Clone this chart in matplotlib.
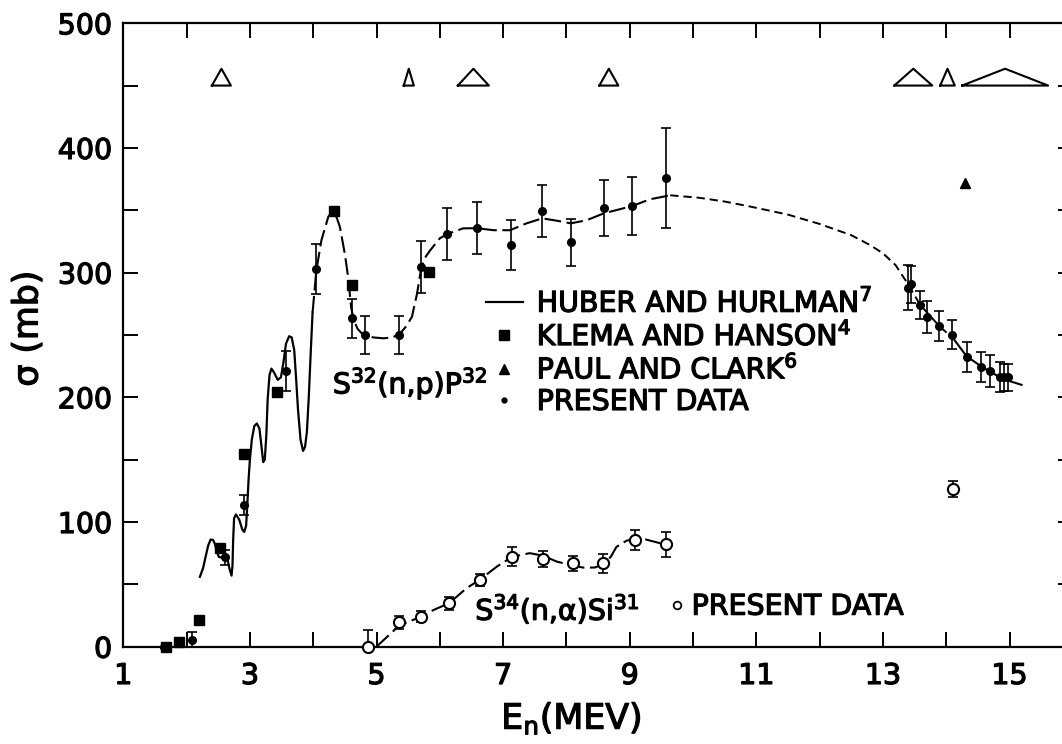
import matplotlib
matplotlib.use("Agg")
import matplotlib.pyplot as plt
import matplotlib.patheffects as pe
from matplotlib.lines import Line2D

# S32(n,p)P32 -- present data (filled dots)
np_E = [1.64, 2.08, 2.61, 2.91, 3.57, 4.05, 4.61, 4.82, 5.36, 5.71, 6.12, 6.59,
        7.12, 7.62, 8.07, 8.59, 9.04, 9.57, 13.39, 13.44, 13.59, 13.70, 13.89,
        14.09, 14.33, 14.55, 14.69, 14.85, 14.92, 14.98]
np_sig = [0, 5.5, 71.7, 113.6, 221, 302.6, 263.3, 250, 250, 304.7, 331, 335.8,
          322, 349.4, 324.3, 352, 353.4, 376, 288, 290.6, 274, 264.6, 257,
          250, 232.6, 224.5, 221, 216, 216, 216]
np_err = [0, 6, 6, 8, 16, 20, 15.5, 15, 15, 21, 21, 21,
          20, 21, 19, 22.5, 23, 40, 18, 15, 11, 13, 12,
          11.6, 12, 12, 13, 12, 11, 11]

# Klema and Hanson (squares)
klema_E = [1.68, 1.88, 2.20, 2.53, 2.91, 3.43, 4.33, 4.62, 5.83]
klema_sig = [0, 4, 21, 79, 154.5, 204.5, 349.6, 290, 300.7]

# Paul and Clark (filled triangle)
paul_E = [14.30]
paul_sig = [371.6]

# S34(n,alpha)Si31 -- present data (open circles)
na_E = [4.87, 5.36, 5.70, 6.15, 6.64, 7.14, 7.63, 8.11, 8.58, 9.08, 9.57, 14.10]
na_sig = [0, 19.5, 24, 34.8, 53.5, 72.2, 70.3, 66.9, 66.9, 85.6, 82.1, 126.5]
na_err = [13, 5, 4.5, 5, 5, 7.5, 6.5, 6, 7.5, 7.7, 10, 6.5]

# Huber and Hurlman (solid wiggly curve)
hh_E = [2.21, 2.26, 2.30, 2.34, 2.38, 2.42, 2.45, 2.48, 2.51, 2.55, 2.59, 2.62,
        2.65, 2.68, 2.71, 2.725, 2.735, 2.75, 2.78, 2.83, 2.88, 2.91, 2.94,
        2.96, 2.98, 3.00, 3.03, 3.07, 3.11, 3.15, 3.18, 3.21, 3.235, 3.26,
        3.28, 3.31, 3.34, 3.38, 3.44, 3.49, 3.53, 3.57, 3.62, 3.66, 3.70,
        3.73, 3.76, 3.80, 3.84, 3.87, 3.90, 3.93, 3.96, 3.99]
hh_sig = [56, 63, 72, 81, 86, 85.5, 82, 76, 72, 71.5, 73, 73,
          69, 62, 57, 65, 85, 103, 106, 102, 94, 92, 97,
          115, 135, 150, 166, 177, 179, 175, 162, 148, 150, 170,
          198, 218, 223, 220, 214, 216, 228, 243, 249, 248, 238,
          215, 190, 166, 157, 160, 172, 200, 235, 268]

# (n,p) long-dashed curve
npc_E = [3.99, 4.05, 4.13, 4.24, 4.33, 4.42, 4.50, 4.55, 4.60, 4.64, 4.70, 4.79,
         4.95, 5.11, 5.25, 5.37, 5.47, 5.56, 5.64, 5.71, 5.78, 5.85, 6.00, 6.12,
         6.37, 6.59, 6.85, 7.11, 7.37, 7.62, 7.85, 8.07, 8.32, 8.59, 9.04, 9.32, 9.64]
npc_sig = [268, 302, 326, 345, 350, 337, 315, 297, 272, 262, 255, 250,
           248, 247.3, 248, 251, 257, 264.6, 283, 304.7, 313, 318, 327.5, 331,
           335.5, 335.6, 334, 334, 339.5, 343.5, 341.6, 339.5, 342, 347.5, 353.4, 358.8, 362]

# (n,p) short-dashed extrapolation
sd_E = [9.64, 10.1, 10.5, 10.9, 11.5, 12.0, 12.5, 12.8, 13.0, 13.2, 13.38, 13.59, 13.90, 14.11]
sd_sig = [362, 360, 357, 353, 346.5, 339, 330, 322, 315.5, 306, 292, 274, 256.6, 247.3]

# (n,p) solid end
end_E = [14.11, 14.32, 14.56, 14.85, 15.0, 15.19]
end_sig = [247.3, 233, 224.5, 216, 213, 210]

# (n,alpha) dashed curve
nac_E = [5.0, 5.36, 5.70, 5.90, 6.15, 6.42, 6.64, 6.90, 7.14, 7.42, 7.63, 7.85,
         8.11, 8.27, 8.45, 8.58, 8.70, 8.79, 8.95, 9.08, 9.25, 9.48]
nac_sig = [0, 17, 24, 29.4, 35, 46.8, 54, 64.2, 72, 75, 73, 68.2,
           65, 63.4, 63.5, 66, 72, 80, 85, 86.5, 86, 83]

# energy resolution triangles along the top
res_E = [2.55, 5.51, 6.53, 8.67, 13.48, 14.02, 14.93]
res_hw = [0.15, 0.08, 0.245, 0.15, 0.30, 0.115, 0.68]
RES_BASE = 450
RES_H = 13.5

plt.rcParams.update({
    "font.family": ["DejaVu Sans"],
    "font.size": 20.5,
    "mathtext.fontset": "dejavusans",
    "lines.scale_dashes": False,
    "axes.linewidth": 1.6,
})

fig = plt.figure(figsize=(10.62, 7.44), dpi=100)
ax = fig.add_axes([0.1161, 0.1308, 0.8941, 0.8380])

K = "black"
LONG = (12, 4)
SHORT = (6, 3.5)

ax.plot(hh_E, hh_sig, color=K, lw=1.6)
ax.plot(npc_E, npc_sig, color=K, lw=1.5, dashes=LONG)
ax.plot(sd_E, sd_sig, color=K, lw=1.4, dashes=SHORT)
ax.plot(end_E, end_sig, color=K, lw=1.5)
ax.plot(nac_E, nac_sig, color=K, lw=1.5, dashes=LONG)

ax.errorbar(np_E, np_sig, yerr=np_err, fmt="none", ecolor=K,
            elinewidth=1.2, capsize=3.5, capthick=1.2)
ax.plot(np_E, np_sig, "o", color=K, ms=5.5, clip_on=False)
ax.plot(klema_E, klema_sig, "s", color=K, ms=6.5, clip_on=False)
ax.plot(paul_E, paul_sig, "^", color=K, ms=7.5)

ax.errorbar(na_E, na_sig, yerr=na_err, fmt="none", ecolor=K,
            elinewidth=1.2, capsize=3.5, capthick=1.2)
ax.plot(na_E, na_sig, "o", ms=8, mfc="white", mec=K, mew=1.5, clip_on=False, zorder=3)

for c, hw in zip(res_E, res_hw):
    ax.plot([c - hw, c, c + hw, c - hw],
            [RES_BASE, RES_BASE + RES_H, RES_BASE, RES_BASE], color=K, lw=1.5)

ax.text(4.31, 203, r"S$^{32}$(n,p)P$^{32}$", ha="left", va="baseline")
ax.text(6.56, 21.4, r"S$^{34}$(n,α)Si$^{31}$", ha="left", va="baseline")

handles = [Line2D([], [], color=K, lw=1.6),
           Line2D([], [], marker="s", ls="none", color=K, ms=6.5),
           Line2D([], [], marker="^", ls="none", color=K, ms=6.5),
           Line2D([], [], marker="o", ls="none", color=K, ms=3.5)]
labels = [r"HUBER AND HURLMAN$^7$", r"KLEMA AND HANSON$^4$",
          r"PAUL AND CLARK$^6$", "PRESENT DATA"]
leg = ax.legend(handles, labels, loc="center left", bbox_to_anchor=(0.382, 0.4727),
                frameon=False, borderpad=0, borderaxespad=0, handlelength=1.29,
                handletextpad=0.49, labelspacing=0.12, fontsize=20.5)
ax.add_artist(leg)

h2 = [Line2D([], [], marker="o", ls="none", mfc="white", mec=K, mew=1.3, ms=5.5)]
leg2 = ax.legend(h2, ["PRESENT DATA"], loc="center left", bbox_to_anchor=(0.5754, 0.0642),
                 frameon=False, borderpad=0, borderaxespad=0, handlelength=0.5,
                 handletextpad=0.27, fontsize=20.5)

ax.set_xlim(1, 16)
ax.set_ylim(0, 500)
ax.set_xticks(range(1, 16, 2))
ax.set_xticks(range(2, 16, 2), minor=True)
ax.set_yticks(range(0, 501, 100))
ax.set_yticks(range(50, 500, 100), minor=True)
ax.tick_params(which="both", direction="in", length=10.8, width=1.4,
               top=True, right=True)
ax.tick_params(axis="x", pad=11, labelsize=20.5)
ax.tick_params(axis="y", pad=8, labelsize=20.5)

ax.set_xlabel(r"E$_{\rm n}$(MEV)", fontsize=25)
ax.xaxis.set_label_coords(0.472, -0.085)
ax.set_ylabel("σ (mb)", fontsize=25)
ax.yaxis.set_label_coords(-0.083, 0.51)

# heavier lettering, like the inked original
bold = [pe.withStroke(linewidth=0.9, foreground=K)]
texts = list(ax.texts) + leg.get_texts() + leg2.get_texts()
texts += ax.get_xticklabels() + ax.get_yticklabels()
texts += [ax.xaxis.label, ax.yaxis.label]
for t in texts:
    t.set_path_effects(bold)

fig.savefig("out.png", dpi=100)
